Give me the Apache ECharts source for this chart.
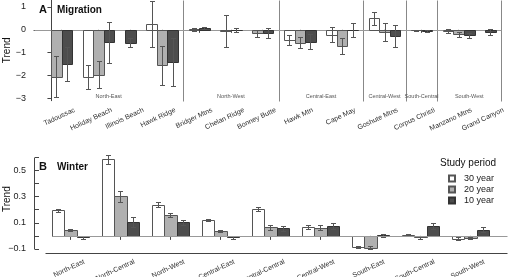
<!DOCTYPE html>
<html>
<head>
<meta charset="utf-8">
<script src="https://cdn.jsdelivr.net/npm/echarts@6/dist/echarts.min.js"></script>
<style>
  html, body { margin: 0; padding: 0; background: #fff; }
  #chart { width: 510px; height: 277px; }
</style>
</head>
<body>
<div id="chart"></div>
<script>
// panel A: migration counts per site
const migSites = ['Tadoussac', 'Holiday Beach', 'Illinois Beach', 'Hawk Ridge', 'Bridger Mtns', 'Chelan Ridge',
  'Bonney Butte', 'Hawk Mtn', 'Cape May', 'Goshute Mtns', 'Corpus Christi', 'Manzano Mtns', 'Grand Canyon'];
const migRegions = ['North-East', 'North-West', 'Central-East', 'Central-West', 'South-Central', 'South-West'];
const migRegionSize = [4, 3, 2, 1, 1, 2];
const mig30 = [null, -2.08, null, 0.25, null, null, null, -0.45, -0.22, 0.5, null, -0.04, null];
const mig20 = [-2.05, -1.97, null, -1.56, 0.02, -0.06, -0.15, -0.57, -0.72, -0.11, -0.02, -0.19, null];
const mig10 = [-1.5, -0.54, -0.56, -1.4, 0.08, -0.02, -0.12, -0.53, 0.01, -0.28, -0.04, -0.24, -0.1];
const migSe30 = [null, 0.53, null, 1.02, null, null, null, 0.22, 0.33, 0.3, null, 0.08, null];
const migSe20 = [0.9, 0.6, null, 0.84, 0.06, 0.71, 0.15, 0.24, 0.36, 0.39, 0.03, 0.11, null];
const migSe10 = [0.76, 0.9, 0.21, 1.05, 0.05, 0.09, 0.22, 0.33, 0.31, 0.48, 0.04, 0.12, 0.13];
const migYTicks = [-3, -2, -1, 0, 1];

// panel B: winter counts per region
const winRegions = ['North-East', 'North-Central', 'North-West', 'Central-East', 'Central-Central',
  'Central-West', 'South-East', 'South-Central', 'South-West'];
const win30 = [0.196, 0.585, 0.238, 0.121, 0.203, 0.069, -0.082, 0.010, -0.021];
const win20 = [0.047, 0.302, 0.159, 0.036, 0.066, 0.064, -0.090, -0.010, -0.017];
const win10 = [-0.012, 0.105, 0.104, -0.012, 0.057, 0.077, 0.004, 0.076, 0.046];
const winSe30 = [0.012, 0.035, 0.018, 0.008, 0.016, 0.013, 0.008, 0.008, 0.009];
const winSe20 = [0.009, 0.040, 0.018, 0.008, 0.018, 0.018, 0.013, 0.010, 0.009];
const winSe10 = [0.008, 0.040, 0.019, 0.009, 0.020, 0.021, 0.012, 0.022, 0.020];
const winYTicks = [-0.1, 0, 0.1, 0.2, 0.3, 0.4, 0.5, 0.6];
const winYLabels = [-0.1, 0.1, 0.3, 0.5];

const periods = ['30 year', '20 year', '10 year'];

const FONT = 'Liberation Sans';
const fills = ['#ffffff', '#b0b0b0', '#4d4d4d'];
const edges = ['#555555', '#555555', '#333333'];

const migX = [-1.6, 42.5], migY = [-3.105, 1.307];
const winX = [-0.4, 37.4], winY = [-0.133, 0.694];

// bars are packed, one slot gap between sites, missing periods skipped
const migBars = [[], [], []];
const migTicks = [];
const segsA = [];
const migRegionMid = [];
(function () {
  let pos = 0, s = 0, left = migX[0];
  migRegionSize.forEach(function (n, r) {
    for (let k = 0; k < n; k++, s++) {
      const vals = [mig30[s], mig20[s], mig10[s]];
      const ses = [migSe30[s], migSe20[s], migSe10[s]];
      const c = [];
      for (let p = 0; p < 3; p++) {
        if (vals[p] !== null) {
          migBars[p].push([pos + 0.5, vals[p], ses[p]]);
          c.push(pos + 0.5);
          pos++;
        }
      }
      migTicks.push((c[0] + c[c.length - 1]) / 2);
      pos += 1;
    }
    const sep = pos - 0.5;
    segsA.push([sep, migY[0], sep, migY[1], '#888']);
    migRegionMid.push([(left + sep) / 2, r]);
    left = sep;
  });
  segsA.push([migX[0], 0, migX[1], 0, '#999']);
})();

const winBars = [[], [], []];
const winTicks = [];
(function () {
  let pos = 1;
  winRegions.forEach(function (name, r) {
    const vals = [win30[r], win20[r], win10[r]];
    const ses = [winSe30[r], winSe20[r], winSe10[r]];
    for (let p = 0; p < 3; p++) winBars[p].push([pos + p + 0.5, vals[p], ses[p]]);
    winTicks.push(pos + 1.5);
    pos += 4;
  });
})();
const segsB = [
  [1, 0, winX[1], 0, '#999'],
  [winX[0], 0.6, winX[0], -0.1, '#444'],
  [0.46, winY[0], winX[1], winY[0], '#444']
];

function crisp(v) { return Math.round(v) + 0.5; }

function barRenderer(p) {
  return function (params, api) {
    const x = api.value(0), v = api.value(1), se = api.value(2);
    const a = api.coord([x - 0.5, 0]), b = api.coord([x + 0.5, v]);
    const xl = crisp(a[0]), xr = crisp(b[0]);
    const y0 = crisp(a[1]), y1 = crisp(b[1]);
    const cx = crisp((a[0] + b[0]) / 2);
    const yt = crisp(api.coord([x, v + se])[1]), yb = crisp(api.coord([x, v - se])[1]);
    const cap = 2.5;
    const ls = { stroke: '#555', lineWidth: 1 };
    return {
      type: 'group', children: [
        { type: 'rect', shape: { x: xl, y: Math.min(y0, y1), width: xr - xl, height: Math.abs(y1 - y0) },
          style: { fill: fills[p], stroke: edges[p], lineWidth: 1 } },
        { type: 'line', shape: { x1: cx, y1: yt, x2: cx, y2: yb }, style: ls },
        { type: 'line', shape: { x1: cx - cap, y1: yt, x2: cx + cap, y2: yt }, style: ls },
        { type: 'line', shape: { x1: cx - cap, y1: yb, x2: cx + cap, y2: yb }, style: ls }
      ]
    };
  };
}

function segRenderer(rows) {
  return function (params, api) {
    const r = rows[params.dataIndex];
    const a = api.coord([r[0], r[1]]), b = api.coord([r[2], r[3]]);
    return { type: 'line', shape: { x1: crisp(a[0]), y1: crisp(a[1]), x2: crisp(b[0]), y2: crisp(b[1]) },
      style: { stroke: r[4], lineWidth: 1 } };
  };
}

function tickLabelRenderer(names, dx, dy) {
  return function (params, api) {
    const cs = params.coordSys;
    const pt = api.coord([api.value(0), 0]);
    return {
      type: 'text', x: pt[0] + dx, y: cs.y + cs.height + dy, rotation: 25 * Math.PI / 180,
      style: { text: names[api.value(1)], align: 'right', verticalAlign: 'middle',
        fontSize: 7, fontFamily: FONT, fill: '#333' }
    };
  };
}

function regionLabelRenderer(params, api) {
  const cs = params.coordSys;
  const pt = api.coord([api.value(0), 0]);
  return {
    type: 'text', x: pt[0], y: cs.y + cs.height - 4,
    style: { text: migRegions[api.value(1)], align: 'center', verticalAlign: 'middle',
      fontSize: 5.5, fontFamily: FONT, fill: '#555' }
  };
}

function minus(v) {
  return v < 0 ? '\u2212' + (-v) : String(v);
}

const series = [];
periods.forEach(function (name, p) {
  series.push({ type: 'custom', name: name, xAxisIndex: 0, yAxisIndex: 0, data: migBars[p],
    encode: { x: 0, y: 1 }, renderItem: barRenderer(p), z: 3,
    itemStyle: { color: fills[p], borderColor: edges[p], borderWidth: 1 } });
  series.push({ type: 'custom', name: name, xAxisIndex: 1, yAxisIndex: 1, data: winBars[p],
    encode: { x: 0, y: 1 }, renderItem: barRenderer(p), z: 3,
    itemStyle: { color: fills[p], borderColor: edges[p], borderWidth: 1 } });
});
series.push({ type: 'custom', xAxisIndex: 0, yAxisIndex: 0, silent: true, z: 2,
  data: segsA.map(function (r) { return [r[0], r[1]]; }), encode: { x: 0, y: 1 }, renderItem: segRenderer(segsA) });
series.push({ type: 'custom', xAxisIndex: 1, yAxisIndex: 1, silent: true, z: 4,
  data: segsB.map(function (r) { return [r[0], r[1]]; }), encode: { x: 0, y: 1 }, renderItem: segRenderer(segsB) });
series.push({ type: 'custom', xAxisIndex: 0, yAxisIndex: 0, silent: true, clip: false,
  data: migRegionMid, encode: { x: 0, y: 1 }, renderItem: regionLabelRenderer });
series.push({ type: 'custom', xAxisIndex: 0, yAxisIndex: 0, silent: true, clip: false,
  data: migTicks.map(function (t, i) { return [t, i]; }), encode: { x: 0 },
  renderItem: tickLabelRenderer(migSites, 13, 9) });
series.push({ type: 'custom', xAxisIndex: 1, yAxisIndex: 1, silent: true, clip: false,
  data: winTicks.map(function (t, i) { return [t, i]; }), encode: { x: 0 },
  renderItem: tickLabelRenderer(winRegions, 14, 8) });

const axisColor = '#444';
const chart = echarts.init(document.getElementById('chart'));
chart.setOption({
  animation: false,
  backgroundColor: '#fff',
  title: [
    { text: '{b|A}  {n|Migration}', left: 39, top: 1, padding: 0,
      textStyle: { rich: { b: { fontSize: 11, fontWeight: 'bold', fontFamily: FONT, color: '#111' },
        n: { fontSize: 10, fontFamily: FONT, color: '#111' } } } },
    { text: '{b|B}  {n|Winter}', left: 39, top: 158, padding: 0,
      textStyle: { rich: { b: { fontSize: 11, fontWeight: 'bold', fontFamily: FONT, color: '#111' },
        n: { fontSize: 10, fontFamily: FONT, color: '#111' } } } },
    { text: 'Study period', left: 440, top: 158, padding: 0,
      textStyle: { fontSize: 10, fontWeight: 'normal', fontFamily: FONT, color: '#111' } }
  ],
  legend: {
    data: periods, orient: 'vertical', left: 448, top: 173, padding: 0,
    icon: 'path://M0,0 L10,0 L10,10 L0,10 Z', symbolKeepAspect: true,
    itemWidth: 14, itemHeight: 6, itemGap: 0,
    textStyle: { fontSize: 9, fontFamily: FONT, color: '#222', lineHeight: 11 }
  },
  grid: [
    { left: 34, top: 0, width: 467, height: 100.7, outerBoundsMode: 'none', containLabel: false },
    { left: 34, top: 145, width: 472.5, height: 108.3, outerBoundsMode: 'none', containLabel: false }
  ],
  xAxis: [
    { gridIndex: 0, type: 'value', min: migX[0], max: migX[1],
      axisLine: { show: true, lineStyle: { color: axisColor } },
      axisTick: { show: true, customValues: migTicks, length: 3, lineStyle: { color: axisColor } },
      axisLabel: { show: false }, splitLine: { show: false } },
    { gridIndex: 1, type: 'value', min: winX[0], max: winX[1],
      axisLine: { show: false },
      axisTick: { show: true, customValues: winTicks, length: 4, lineStyle: { color: axisColor } },
      axisLabel: { show: false }, splitLine: { show: false } }
  ],
  yAxis: [
    { gridIndex: 0, type: 'value', min: migY[0], max: migY[1],
      name: 'Trend', nameLocation: 'middle', nameGap: 22, nameMoveOverlap: false,
      nameTextStyle: { fontSize: 10, fontFamily: FONT, color: '#111' },
      axisLine: { show: true, lineStyle: { color: axisColor } },
      axisTick: { show: true, customValues: migYTicks, length: 3.5, lineStyle: { color: axisColor } },
      axisLabel: { customValues: migYTicks, formatter: minus, fontSize: 9, fontFamily: FONT, color: '#222', margin: 8 },
      splitLine: { show: false } },
    { gridIndex: 1, type: 'value', min: winY[0], max: winY[1],
      name: 'Trend', nameLocation: 'middle', nameGap: 22, nameMoveOverlap: false,
      nameTextStyle: { fontSize: 10, fontFamily: FONT, color: '#111' },
      axisLine: { show: false },
      axisTick: { show: true, customValues: winYTicks, length: 4, lineStyle: { color: axisColor } },
      axisLabel: { customValues: winYLabels, formatter: minus, fontSize: 9, fontFamily: FONT, color: '#222', margin: 8 },
      splitLine: { show: false } }
  ],
  series: series
});
</script>
</body>
</html>
